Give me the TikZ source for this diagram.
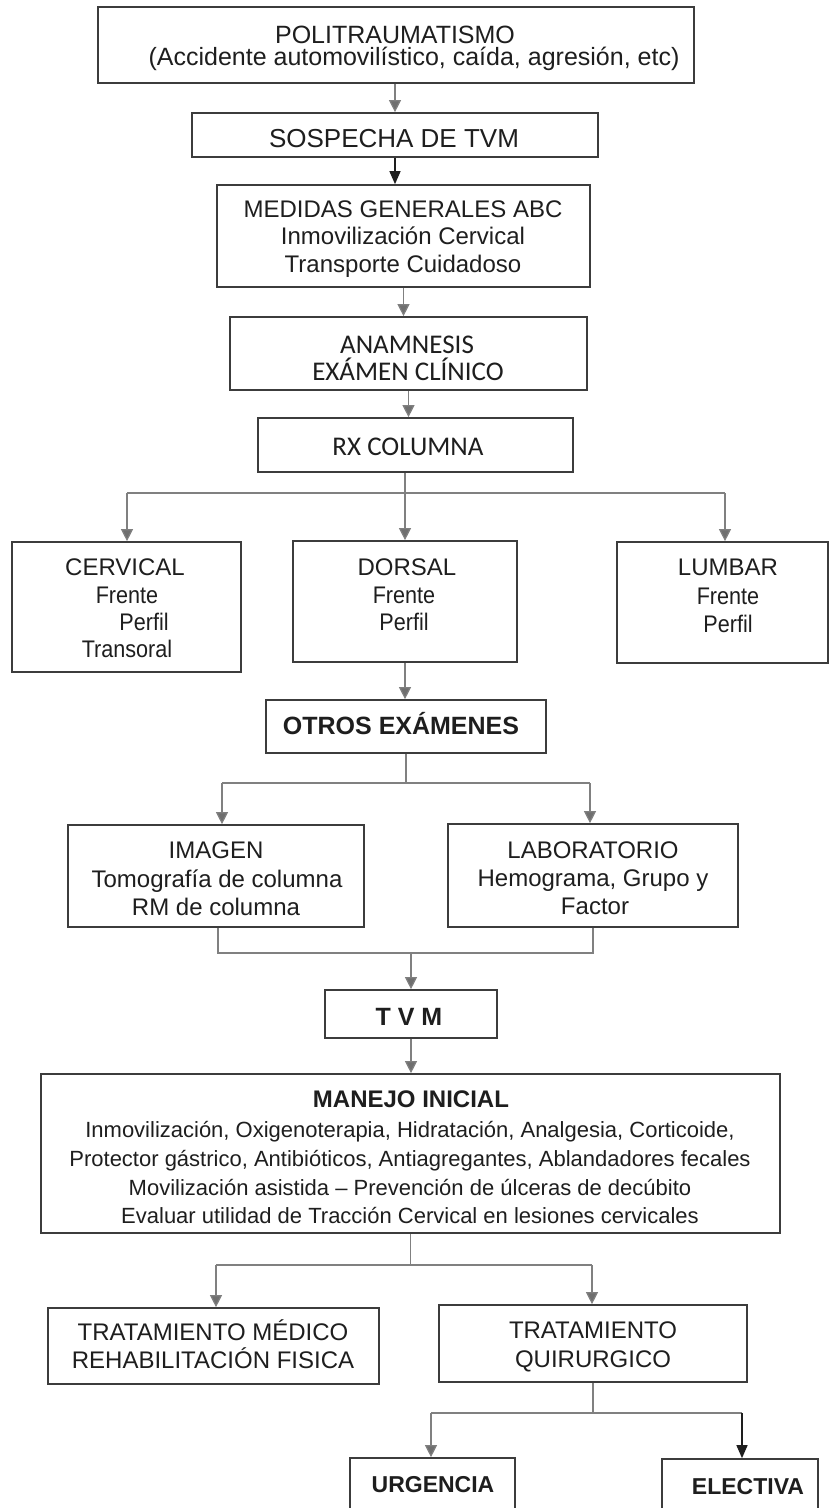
\documentclass[tikz,border=0pt]{standalone}
\usepackage{fontspec}
\setmainfont{Liberation Sans}
\newfontfamily\calfont{Carlito}
\newfontfamily\narrowfont[FakeStretch=0.9]{Liberation Sans}
\usetikzlibrary{arrows.meta}

\definecolor{boxline}{HTML}{3C3C3C}
\definecolor{linkgray}{HTML}{808080}
\definecolor{tipgray}{HTML}{6F6F6F}
\definecolor{ink}{HTML}{1E1E1E}

\tikzset{
  box/.style={draw=boxline, line width=1.7pt, inner sep=0pt, fill=white},
  txt/.style={anchor=base, inner sep=0pt, text=ink, font=\fontsize{24}{28}\selectfont},
  link/.style={draw=linkgray, line width=1.2pt},
  arr/.style={link, -{Triangle[width=12pt,length=12pt,fill=tipgray]}},
  blackarr/.style={draw=ink, line width=1.4pt, -{Triangle[width=11pt,length=13pt]}},
}

\begin{document}
\begin{tikzpicture}[x=1pt,y=-1pt]
\useasboundingbox (0,0) rectangle (829,1508);
\clip (0,0) rectangle (829,1508);
\fill[white] (0,0) rectangle (829,1508);

% ---- boxes ----
\node[box, minimum width=596pt, minimum height=76pt]  (poli)   at (396,45) {};
\node[box, minimum width=406pt, minimum height=44pt]  (sosp)   at (395,135) {};
\node[box, minimum width=373pt, minimum height=102pt] (medi)   at (403.5,236) {};
\node[box, minimum width=357pt, minimum height=73pt]  (anam)   at (408.5,353.5) {};
\node[box, minimum width=315pt, minimum height=54pt]  (rx)     at (415.5,445) {};
\node[box, minimum width=229pt, minimum height=130pt] (cerv)   at (126.5,607) {};
\node[box, minimum width=224pt, minimum height=121pt] (dors)   at (405,601.5) {};
\node[box, minimum width=211pt, minimum height=121pt] (lumb)   at (722.5,602.5) {};
\node[box, minimum width=280pt, minimum height=53pt]  (otros)  at (406,726.5) {};
\node[box, minimum width=296pt, minimum height=102pt] (imag)   at (216,876) {};
\node[box, minimum width=290pt, minimum height=103pt] (lab)    at (593,875.5) {};
\node[box, minimum width=172pt, minimum height=48pt]  (tvm)    at (411,1014) {};
\node[box, minimum width=739pt, minimum height=159pt] (manejo) at (410.5,1153.5) {};
\node[box, minimum width=331pt, minimum height=76pt]  (tmed)   at (213.5,1346) {};
\node[box, minimum width=308pt, minimum height=77pt]  (tquir)  at (593,1343.5) {};
\node[box, minimum width=165pt, minimum height=72pt]  (urg)    at (432.5,1494) {};
\node[box, minimum width=156pt, minimum height=71pt]  (elec)   at (740,1494.5) {};

% ---- texts ----
\node[txt, font=\fontsize{25}{30}\selectfont] (poliA) at (395,43) {POLITRAUMATISMO};
\node[txt, font=\fontsize{25}{30}\selectfont] (poliB) at (414,65) {(Accidente automovilístico, caída, agresión, etc)};
\node[txt, font=\fontsize{26}{30}\selectfont] (sospA) at (394,147) {SOSPECHA DE TVM};
\node[txt] (mediA) at (403,217) {MEDIDAS GENERALES ABC};
\node[txt] (mediB) at (403,244.5) {Inmovilización Cervical};
\node[txt] (mediC) at (403,272) {Transporte Cuidadoso};
\node[txt, font=\calfont\fontsize{27}{32}\selectfont] (anamA) at (407,353) {ANAMNESIS};
\node[txt, font=\calfont\fontsize{27}{32}\selectfont] (anamB) at (408,380) {EXÁMEN CLÍNICO};
\node[txt, font=\calfont\fontsize{27}{32}\selectfont] (rxA) at (408,455) {RX COLUMNA};

\node[txt] (cervA) at (125,575) {CERVICAL};
\node[txt, font=\narrowfont\fontsize{24}{28}\selectfont] (cervB) at (127,603) {Frente};
\node[txt, font=\narrowfont\fontsize{24}{28}\selectfont] (cervC) at (144,630) {Perfil};
\node[txt, font=\narrowfont\fontsize{24}{28}\selectfont] (cervD) at (127,657) {Transoral};
\node[txt] (dorsA) at (407,575) {DORSAL};
\node[txt, font=\narrowfont\fontsize{24}{28}\selectfont] (dorsB) at (404,603) {Frente};
\node[txt, font=\narrowfont\fontsize{24}{28}\selectfont] (dorsC) at (404,630) {Perfil};
\node[txt] (lumbA) at (728,575) {LUMBAR};
\node[txt, font=\narrowfont\fontsize{24}{28}\selectfont] (lumbB) at (728,604) {Frente};
\node[txt, font=\narrowfont\fontsize{24}{28}\selectfont] (lumbC) at (728,632) {Perfil};

\node[txt, font=\bfseries\fontsize{25}{30}\selectfont] (otrosA) at (401,734) {OTROS EXÁMENES};
\node[txt] (imagA) at (216,858) {IMAGEN};
\node[txt] (imagB) at (217,887) {Tomografía de columna};
\node[txt] (imagC) at (216,915) {RM de columna};
\node[txt] (labA) at (593,858) {LABORATORIO};
\node[txt] (labB) at (593,886) {Hemograma, Grupo y};
\node[txt] (labC) at (595,914) {Factor};
\node[txt, font=\bfseries\fontsize{25}{30}\selectfont] (tvmA) at (409,1025) {T V M};

\node[txt, font=\bfseries\fontsize{24}{28}\selectfont] (manA) at (411,1107) {MANEJO INICIAL};
\node[txt, font=\fontsize{22}{26}\selectfont] (manB) at (410,1137) {Inmovilización, Oxigenoterapia, Hidratación, Analgesia, Corticoide,};
\node[txt, font=\fontsize{22}{26}\selectfont] (manC) at (410,1166) {Protector gástrico, Antibióticos, Antiagregantes, Ablandadores fecales};
\node[txt, font=\fontsize{22}{26}\selectfont] (manD) at (410,1195) {Movilización asistida -- Prevención de úlceras de decúbito};
\node[txt, font=\fontsize{22}{26}\selectfont] (manE) at (410,1223) {Evaluar utilidad de Tracción Cervical en lesiones cervicales};

\node[txt] (tmedA) at (213,1340) {TRATAMIENTO MÉDICO};
\node[txt] (tmedB) at (213,1368) {REHABILITACIÓN FISICA};
\node[txt] (tquirA) at (593,1338) {TRATAMIENTO};
\node[txt] (tquirB) at (593,1367) {QUIRURGICO};
\node[txt, font=\bfseries\fontsize{23}{28}\selectfont] (urgA) at (433,1492) {URGENCIA};
\node[txt, font=\bfseries\fontsize{23}{28}\selectfont] (elecA) at (748,1494) {ELECTIVA};

% ---- branch points ----
\coordinate (rxL) at (127,493);
\coordinate (rxR) at (725,493);
\coordinate (oL) at (222,783);
\coordinate (oR) at (590,783);
\coordinate (jL) at (218,953);
\coordinate (jR) at (593,953);
\coordinate (mL) at (216,1265);
\coordinate (mR) at (592,1265);
\coordinate (qL) at (431,1413);
\coordinate (qR) at (742,1413);

% ---- connectors ----
\draw[arr] (sosp.north |- poli.south) -- (sosp.north);
\draw[blackarr] (sosp.south) -- (sosp.south |- medi.north);
\draw[arr] (medi.south) -- (medi.south |- anam.north);
\draw[arr] (anam.south) -- (anam.south |- rx.north);

\draw[arr] (dors.north |- rx.south) -- (dors.north);
\draw[link] (rxL) -- (rxR);
\draw[arr] (rxL) -- (rxL |- cerv.north);
\draw[arr] (rxR) -- (rxR |- lumb.north);

\draw[arr] (dors.south) -- (dors.south |- otros.north);

\draw[link] (otros.south) -- (otros.south |- oL);
\draw[link] (oL) -- (oR);
\draw[arr] (oL) -- (oL |- imag.north);
\draw[arr] (oR) -- (oR |- lab.north);

\draw[link] (jL |- imag.south) -- (jL) -- (jR) -- (jR |- lab.south);
\draw[arr] (tvm.north |- jL) -- (tvm.north);
\draw[arr] (tvm.south) -- (tvm.south |- manejo.north);

\draw[link] (manejo.south) -- (manejo.south |- mL);
\draw[link] (mL) -- (mR);
\draw[arr] (mL) -- (mL |- tmed.north);
\draw[arr] (mR) -- (mR |- tquir.north);

\draw[link] (tquir.south) -- (tquir.south |- qL);
\draw[link] (qL) -- (qR);
\draw[arr] (qL) -- (qL |- urg.north);
\draw[blackarr] (qR) -- (qR |- elec.north);
\end{tikzpicture}
\end{document}
